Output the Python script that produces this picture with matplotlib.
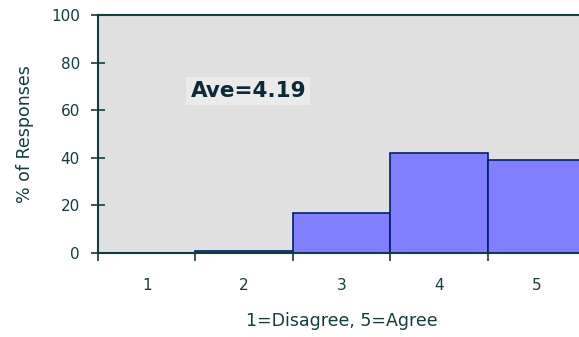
import numpy as np
import matplotlib.pyplot as plt

# response distribution for a 1-5 agreement scale
ratings = [1, 2, 3, 4, 5]
pct_responses = [0, 1, 17, 42, 39]
y_ticks = [0, 20, 40, 60, 80, 100]
average_label = "Ave=4.19"

ink = "#143c3c"
bar_face = "#8080ff"
bar_edge = "#00206a"

plt.rcParams["font.family"] = ["DejaVu Sans"]

fig = plt.figure(figsize=(5.79, 3.37), dpi=100)
ax = fig.add_axes([98 / 579, 84 / 337, 487 / 579, 238 / 337])
ax.set_facecolor("#e0e0e0")

ax.bar(ratings, pct_responses, width=1.0, color=bar_face,
       edgecolor=bar_edge, linewidth=1.2, zorder=2)

ax.set_xlim(0.5, 5.5)
ax.set_ylim(0, 100)

# boundary ticks between categories, labels centred under each bar
ax.set_xticks(np.arange(0.5, 6.0, 1.0))
ax.set_xticklabels([])
ax.set_xticks(ratings, minor=True)
ax.set_xticklabels([str(r) for r in ratings], minor=True)
ax.tick_params(axis="x", which="major", direction="out", length=6,
               width=1.2, color=ink)
ax.tick_params(axis="x", which="minor", length=0, pad=18,
               labelsize=11, labelcolor=ink)

ax.set_yticks(y_ticks)
ax.tick_params(axis="y", direction="inout", length=10, width=1.2,
               color=ink, labelsize=11, labelcolor=ink, pad=8)

for side in ("left", "top", "bottom"):
    ax.spines[side].set_color(ink)
    ax.spines[side].set_linewidth(1.5)
ax.spines["right"].set_visible(False)

ax.set_xlabel("1=Disagree, 5=Agree", fontsize=12.5, color=ink, labelpad=14)
ax.set_ylabel("% of Responses", fontsize=12.5, color=ink, labelpad=12)

ax.text(1.45, 68, average_label, fontsize=15.5, fontweight="bold",
        color="#0a2a3a", va="center", ha="left",
        bbox=dict(facecolor="#ebebeb", edgecolor="none", pad=3))

fig.savefig("out.png", dpi=100)
